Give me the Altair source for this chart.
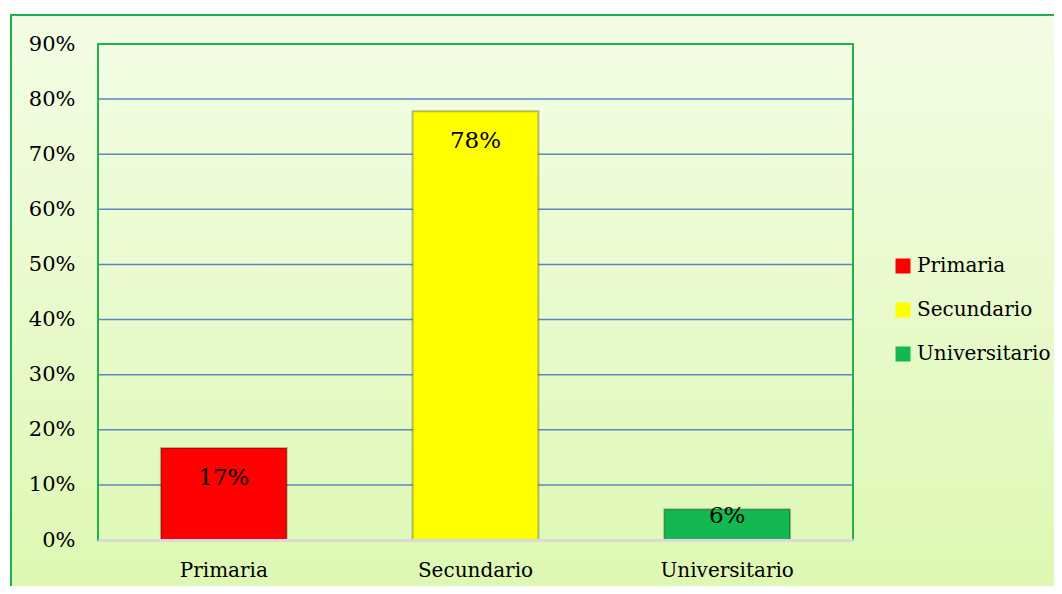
import altair as alt
import pandas as pd

categories = ["Primaria", "Secundario", "Universitario"]
values = [0.167, 0.778, 0.056]
bar_colors = ["#ff0000", "#ffff00", "#14b850"]
grid_ticks = [0.1, 0.2, 0.3, 0.4, 0.5, 0.6, 0.7, 0.8]
axis_ticks = [0, 0.1, 0.2, 0.3, 0.4, 0.5, 0.6, 0.7, 0.8, 0.9]

FONT = "DejaVu Serif"

df = pd.DataFrame({"c": categories, "v": values})
grid_df = pd.DataFrame({"t": grid_ticks})

yscale = alt.Scale(domain=[0, 0.9], nice=False)
yaxis = alt.Axis(values=axis_ticks, format=".0%", title=None, domain=False, ticks=False,
                 grid=False, labelFont=FONT, labelFontSize=21, labelColor="black",
                 labelPadding=23, zindex=1)
xscale = alt.Scale(domain=categories, paddingInner=0.5, paddingOuter=0.25)
xaxis = alt.Axis(title=None, labelAngle=0, ticks=False, domain=True, domainColor="#d9d9d9",
                 domainWidth=3, grid=False, labelFont=FONT, labelFontSize=20,
                 labelColor="black", labelPadding=20, zindex=1)

bg = alt.Chart(alt.Data(values=[{"k": 1}])).mark_rect(
    fill=alt.LinearGradient(
        gradient="linear",
        stops=[alt.GradientStop(color="#f3fde6", offset=0),
               alt.GradientStop(color="#dcf8b0", offset=1)],
        x1=0, x2=0, y1=0, y2=1),
    stroke="#1db04f", strokeWidth=2,
).encode(x=alt.value(-87), x2=alt.value(990), y=alt.value(-29), y2=alt.value(570))

grid = alt.Chart(grid_df).mark_rule(color="#5a87c6", strokeWidth=1.5).encode(
    y=alt.Y("t:Q", scale=yscale, axis=yaxis),
    x=alt.value(0), x2=alt.value("width"))

frame = alt.Chart(alt.Data(values=[{"k": 1}])).mark_rect(
    fill="transparent", stroke="#22b14c", strokeWidth=2
).encode(x=alt.value(0), x2=alt.value("width"), y=alt.value(0), y2=alt.value("height"))

bars = alt.Chart(df).mark_bar(stroke="black", strokeOpacity=0.25, strokeWidth=2).encode(
    x=alt.X("c:N", scale=xscale, axis=xaxis, sort=categories),
    y=alt.Y("v:Q", scale=yscale, axis=yaxis),
    color=alt.Color("c:N", scale=alt.Scale(domain=categories, range=bar_colors),
                    legend=alt.Legend(title=None)),
)

labels = alt.Chart(df).transform_calculate(
    ly="max(datum.v - 0.054, 0.044)"
).mark_text(font=FONT, fontSize=23, baseline="middle", color="black").encode(
    x=alt.X("c:N", scale=xscale, axis=xaxis, sort=categories),
    y=alt.Y("ly:Q", scale=yscale, axis=yaxis),
    text=alt.Text("v:Q", format=".0%"),
)

chart = alt.layer(bg, grid, frame, bars, labels).properties(
    width=755, height=496,
    autosize=alt.AutoSizeParams(type="none"),
    padding={"left": 90, "top": 36, "right": 201, "bottom": 46},
    background="white",
).configure_view(strokeWidth=0).configure_legend(
    orient="none", legendX=795, legendY=212, symbolType="square", symbolSize=225,
    symbolStrokeWidth=0, labelFont=FONT, labelFontSize=20, labelColor="black",
    rowPadding=24, padding=0, labelOffset=4, zindex=1,
)

chart.save("out.html", embed_options={"renderer": "svg", "actions": False})
